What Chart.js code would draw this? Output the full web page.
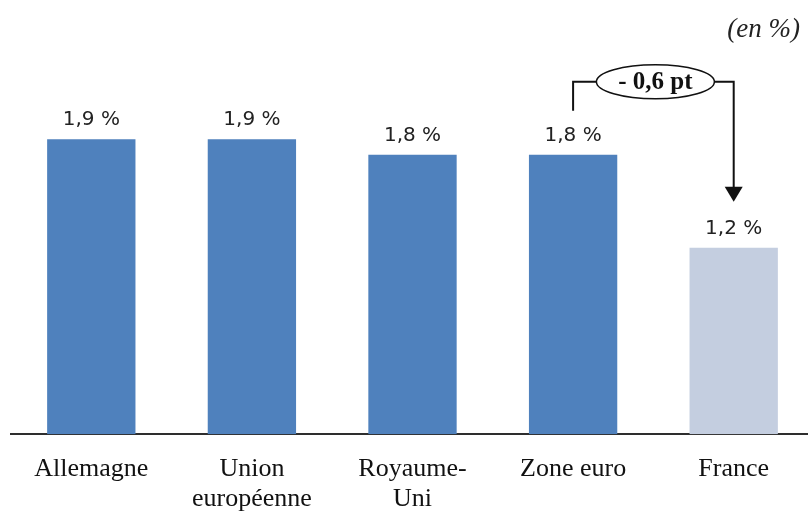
<!DOCTYPE html>
<html lang="fr">
<head>
<meta charset="UTF-8">
<title>Croissance comparée</title>
<script src="https://cdn.jsdelivr.net/npm/chart.js"></script>
<style>
    html, body { margin: 0; padding: 0; background: #ffffff; overflow: hidden; }
    #wrap { position: relative; width: 814px; height: 534px; }
</style>
</head>
<body>
<div id="wrap"><canvas id="chart"></canvas></div>
<script>
// données
const pays = ['Allemagne', ['Union', 'européenne'], ['Royaume-', 'Uni'], 'Zone euro', 'France'];
const valeurs = [1.9, 1.9, 1.8, 1.8, 1.2];
const etiquettes = ['1,9 %', '1,9 %', '1,8 %', '1,8 %', '1,2 %'];
const ecart = '- 0,6 pt';
const unite = '(en %)';

const bleu = '#4F81BD';
const bleuClair = '#C4CEE0';
const couleurs = valeurs.map((v, i) => i === valeurs.length - 1 ? bleuClair : bleu);

// étiquettes de valeur + flèche d'écart
const annotations = {
    id: 'annotations',
    afterDatasetsDraw(chart) {
        const ctx = chart.ctx;
        const bars = chart.getDatasetMeta(0).data;
        ctx.save();

        // valeurs au-dessus des barres
        ctx.fillStyle = '#222';
        ctx.font = '20px "DejaVu Sans"';
        ctx.textAlign = 'center';
        ctx.textBaseline = 'alphabetic';
        bars.forEach((b, i) => ctx.fillText(etiquettes[i], b.x, b.y - 14));

        // unité en haut à droite
        ctx.font = 'italic 27px "Liberation Serif"';
        ctx.textAlign = 'right';
        ctx.fillText(unite, 800, 37);

        // flèche Zone euro -> France
        const a = bars[3], b = bars[4];
        const yh = a.y - 73;
        const cx = (a.x + b.x) / 2 + 2;
        const rx = 59, ry = 17;
        ctx.strokeStyle = '#111';
        ctx.lineWidth = 2;
        ctx.beginPath();
        ctx.moveTo(a.x, a.y - 44);
        ctx.lineTo(a.x, yh);
        ctx.lineTo(cx - rx, yh);
        ctx.moveTo(cx + rx, yh);
        ctx.lineTo(b.x, yh);
        ctx.lineTo(b.x, b.y - 60);
        ctx.stroke();
        ctx.beginPath();
        ctx.moveTo(b.x - 9, b.y - 61);
        ctx.lineTo(b.x + 9, b.y - 61);
        ctx.lineTo(b.x, b.y - 46);
        ctx.closePath();
        ctx.fillStyle = '#111';
        ctx.fill();

        ctx.beginPath();
        ctx.ellipse(cx, yh, rx, ry, 0, 0, Math.PI * 2);
        ctx.fillStyle = '#fff';
        ctx.fill();
        ctx.lineWidth = 1.5;
        ctx.stroke();
        ctx.fillStyle = '#111';
        ctx.font = 'bold 25px "Liberation Serif"';
        ctx.textAlign = 'center';
        ctx.textBaseline = 'middle';
        ctx.fillText(ecart, cx, yh + 1);
        ctx.restore();
    }
};

new Chart(document.getElementById('chart'), {
    type: 'bar',
    data: {
        labels: pays,
        datasets: [{
            data: valeurs,
            backgroundColor: couleurs,
            barPercentage: 0.55,
            categoryPercentage: 1
        }]
    },
    options: {
        responsive: true,
        maintainAspectRatio: false,
        animation: false,
        layout: { padding: { top: 46, left: 11, right: 0, bottom: 0 } },
        plugins: { legend: { display: false }, tooltip: { enabled: false } },
        scales: {
            x: {
                grid: { display: false, drawTicks: false },
                border: { display: true, color: '#2e2e2e', width: 2 },
                ticks: {
                    color: '#111',
                    padding: 20,
                    font: { family: '"Liberation Serif"', size: 26, lineHeight: 1.15 },
                    maxRotation: 0,
                    autoSkip: false
                }
            },
            y: {
                display: false,
                min: 0,
                max: 2.5
            }
        }
    },
    plugins: [annotations]
});
</script>
</body>
</html>
